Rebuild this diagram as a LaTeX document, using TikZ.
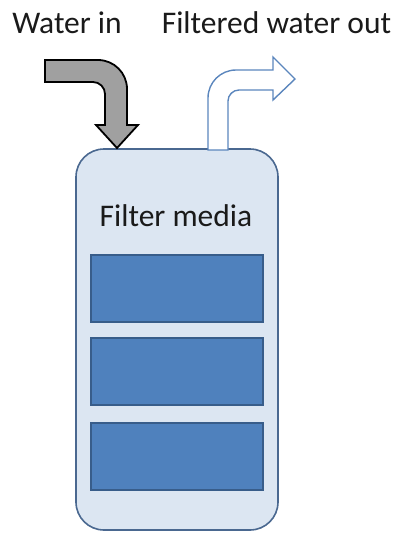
\documentclass[tikz,border=0pt]{standalone}
\usepackage{fontspec}
\setmainfont{Carlito}
\definecolor{tankfill}{HTML}{DCE6F2}
\definecolor{tankline}{HTML}{4A6890}
\definecolor{mediafill}{HTML}{4F81BD}
\definecolor{medialine}{HTML}{385D8A}
\definecolor{inarrow}{HTML}{A0A0A0}
\definecolor{outline}{HTML}{5B86BD}
\definecolor{txt}{HTML}{1A1A1A}
\begin{document}
\begin{tikzpicture}[x=1pt,y=-1pt,
  lbl/.style={font=\fontsize{31.5}{36}\selectfont, text=txt, inner sep=0pt, anchor=base},
  tank/.style={draw=tankline, fill=tankfill, line width=1.6pt, rounded corners=28pt},
  media/.style={draw=medialine, fill=mediafill, line width=1.2pt},
  inflow/.style={draw=black, fill=inarrow, line width=1.8pt, line join=miter},
  outflow/.style={draw=outline, fill=white, line width=1.4pt, line join=miter}]
\useasboundingbox (0,0) rectangle (398,533);
% tank
\draw[tank] (76,149) rectangle (278,530);
\node (tankc) at (177,340) {};
% media layers
\draw[media] (91,255) rectangle (263,322);
\draw[media] (91,338) rectangle (263,405);
\draw[media] (91,423) rectangle (263,490);
% labels
\node[lbl] (win) at (67,33) {Water in};
\node[lbl] (wout) at (276.5,33) {Filtered water out};
\node[lbl] (fm) at (176,226) {Filter media};
% input arrow (bent down)
\draw[inflow] (45,60) -- (98,60) .. controls (114,60) and (127,73) .. (127,89) -- (127,125)
  -- (138,125) -- (117,148) -- (96,125) -- (105,125) -- (105,94)
  .. controls (105,87.4) and (99.6,82) .. (93,82) -- (45,82) -- cycle;
% output arrow (bent right)
\draw[outflow] (208,150) -- (208,98) .. controls (208,82.5) and (220.5,70) .. (236,70) -- (273,70)
  -- (273,57) -- (295,79) -- (273,100) -- (273,90) -- (239,90)
  .. controls (233,90) and (228,95) .. (228,101) -- (228,150) -- cycle;
\end{tikzpicture}
\end{document}
